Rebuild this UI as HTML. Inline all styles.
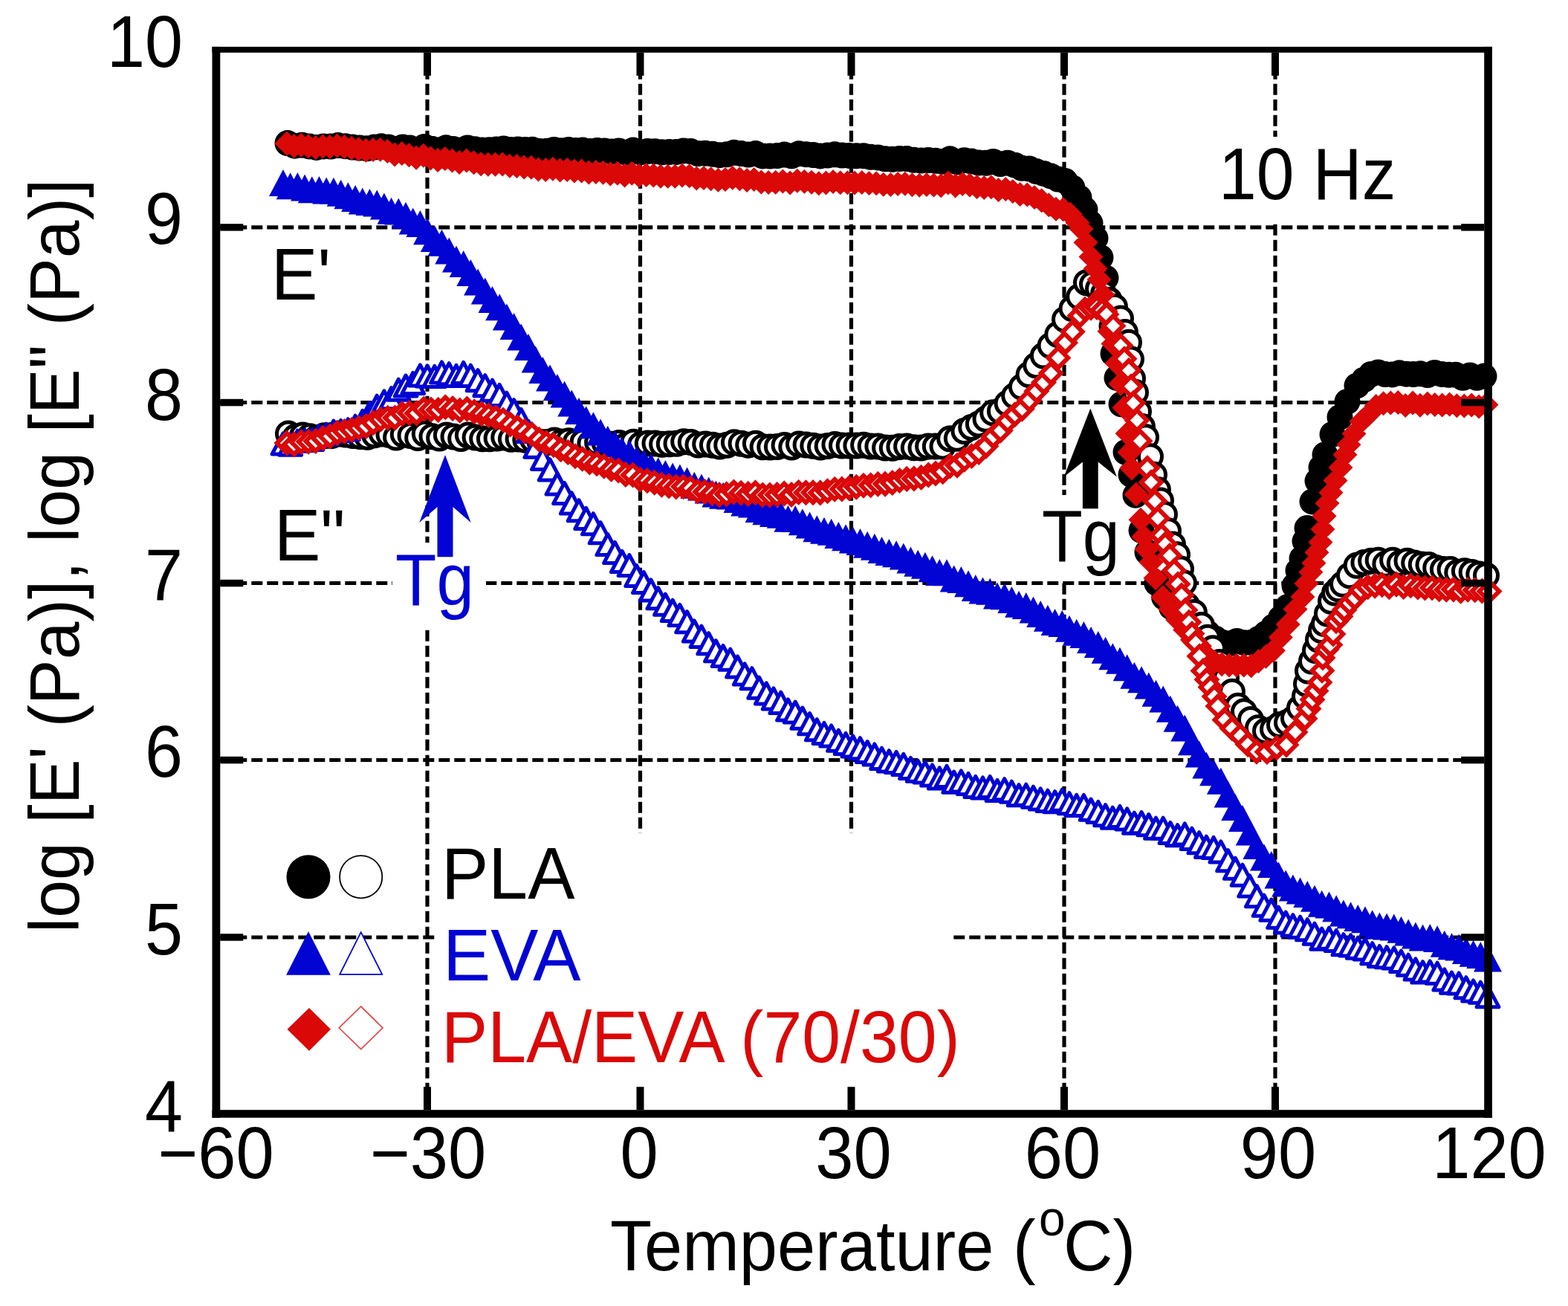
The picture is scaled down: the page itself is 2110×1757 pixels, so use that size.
<!DOCTYPE html><html><head><meta charset="utf-8"><title>DMA plot</title><style>html,body{margin:0;padding:0;background:#fff;}svg{display:block}text{font-family:"Liberation Sans",Arial,sans-serif;}</style></head><body><svg xmlns="http://www.w3.org/2000/svg" width="2110" height="1757" viewBox="0 0 2110 1757"><rect width="2110" height="1757" fill="#fff"/><path d="M575 70.8V1493.2M861.5 70.8V1493.2M1145.5 70.8V1493.2M1432 70.8V1493.2M1716 70.8V1493.2M296.3 305.8H1997.2M296.3 541.5H1997.2M296.3 784.5H1997.2M296.3 1022.5H1997.2M296.3 1261H1997.2" stroke="#000" stroke-width="5.2" stroke-dasharray="15 6" fill="none"/><rect x="590" y="1121" width="692" height="372" fill="#fff"/><rect x="1640" y="184" width="242" height="114" fill="#fff"/><rect x="528" y="730" width="126" height="115" fill="#fff"/><rect x="1395" y="666" width="111" height="113" fill="#fff"/><path d="M369.5 192.6a17.5 17.5 0 1 0 35 0a17.5 17.5 0 1 0 -35 0zM379.2 196.2a17.5 17.5 0 1 0 35 0a17.5 17.5 0 1 0 -35 0zM388.9 195.2a17.5 17.5 0 1 0 35 0a17.5 17.5 0 1 0 -35 0zM398.6 196.9a17.5 17.5 0 1 0 35 0a17.5 17.5 0 1 0 -35 0zM408.3 198.4a17.5 17.5 0 1 0 35 0a17.5 17.5 0 1 0 -35 0zM417.9 196.9a17.5 17.5 0 1 0 35 0a17.5 17.5 0 1 0 -35 0zM427.6 197.1a17.5 17.5 0 1 0 35 0a17.5 17.5 0 1 0 -35 0zM437.3 195.6a17.5 17.5 0 1 0 35 0a17.5 17.5 0 1 0 -35 0zM447 196.7a17.5 17.5 0 1 0 35 0a17.5 17.5 0 1 0 -35 0zM456.7 198a17.5 17.5 0 1 0 35 0a17.5 17.5 0 1 0 -35 0zM466.4 199a17.5 17.5 0 1 0 35 0a17.5 17.5 0 1 0 -35 0zM476.1 199.8a17.5 17.5 0 1 0 35 0a17.5 17.5 0 1 0 -35 0zM485.8 198.1a17.5 17.5 0 1 0 35 0a17.5 17.5 0 1 0 -35 0zM495.4 196.8a17.5 17.5 0 1 0 35 0a17.5 17.5 0 1 0 -35 0zM505.1 198a17.5 17.5 0 1 0 35 0a17.5 17.5 0 1 0 -35 0zM514.8 200.9a17.5 17.5 0 1 0 35 0a17.5 17.5 0 1 0 -35 0zM524.5 197.9a17.5 17.5 0 1 0 35 0a17.5 17.5 0 1 0 -35 0zM534.2 199.1a17.5 17.5 0 1 0 35 0a17.5 17.5 0 1 0 -35 0zM543.9 201.3a17.5 17.5 0 1 0 35 0a17.5 17.5 0 1 0 -35 0zM553.6 197.5a17.5 17.5 0 1 0 35 0a17.5 17.5 0 1 0 -35 0zM563.3 200.2a17.5 17.5 0 1 0 35 0a17.5 17.5 0 1 0 -35 0zM572.9 201.8a17.5 17.5 0 1 0 35 0a17.5 17.5 0 1 0 -35 0zM582.6 198.8a17.5 17.5 0 1 0 35 0a17.5 17.5 0 1 0 -35 0zM592.3 200.4a17.5 17.5 0 1 0 35 0a17.5 17.5 0 1 0 -35 0zM602 202.1a17.5 17.5 0 1 0 35 0a17.5 17.5 0 1 0 -35 0zM611.7 198.9a17.5 17.5 0 1 0 35 0a17.5 17.5 0 1 0 -35 0zM621.4 200.7a17.5 17.5 0 1 0 35 0a17.5 17.5 0 1 0 -35 0zM631.1 201.9a17.5 17.5 0 1 0 35 0a17.5 17.5 0 1 0 -35 0zM640.8 201.7a17.5 17.5 0 1 0 35 0a17.5 17.5 0 1 0 -35 0zM650.5 201a17.5 17.5 0 1 0 35 0a17.5 17.5 0 1 0 -35 0zM660.1 200a17.5 17.5 0 1 0 35 0a17.5 17.5 0 1 0 -35 0zM669.8 201.4a17.5 17.5 0 1 0 35 0a17.5 17.5 0 1 0 -35 0zM679.5 201a17.5 17.5 0 1 0 35 0a17.5 17.5 0 1 0 -35 0zM689.2 201.6a17.5 17.5 0 1 0 35 0a17.5 17.5 0 1 0 -35 0zM698.9 201.3a17.5 17.5 0 1 0 35 0a17.5 17.5 0 1 0 -35 0zM708.6 203.5a17.5 17.5 0 1 0 35 0a17.5 17.5 0 1 0 -35 0zM718.3 203.3a17.5 17.5 0 1 0 35 0a17.5 17.5 0 1 0 -35 0zM728 201.5a17.5 17.5 0 1 0 35 0a17.5 17.5 0 1 0 -35 0zM737.6 202.7a17.5 17.5 0 1 0 35 0a17.5 17.5 0 1 0 -35 0zM747.3 201.5a17.5 17.5 0 1 0 35 0a17.5 17.5 0 1 0 -35 0zM757 202.4a17.5 17.5 0 1 0 35 0a17.5 17.5 0 1 0 -35 0zM766.7 202.1a17.5 17.5 0 1 0 35 0a17.5 17.5 0 1 0 -35 0zM776.4 203.5a17.5 17.5 0 1 0 35 0a17.5 17.5 0 1 0 -35 0zM786.1 202.4a17.5 17.5 0 1 0 35 0a17.5 17.5 0 1 0 -35 0zM795.8 202.9a17.5 17.5 0 1 0 35 0a17.5 17.5 0 1 0 -35 0zM805.5 204.1a17.5 17.5 0 1 0 35 0a17.5 17.5 0 1 0 -35 0zM815.2 202.9a17.5 17.5 0 1 0 35 0a17.5 17.5 0 1 0 -35 0zM824.8 205.2a17.5 17.5 0 1 0 35 0a17.5 17.5 0 1 0 -35 0zM834.5 202.1a17.5 17.5 0 1 0 35 0a17.5 17.5 0 1 0 -35 0zM844.2 204.8a17.5 17.5 0 1 0 35 0a17.5 17.5 0 1 0 -35 0zM853.9 203.5a17.5 17.5 0 1 0 35 0a17.5 17.5 0 1 0 -35 0zM863.6 203.7a17.5 17.5 0 1 0 35 0a17.5 17.5 0 1 0 -35 0zM873.3 204.8a17.5 17.5 0 1 0 35 0a17.5 17.5 0 1 0 -35 0zM883 204.6a17.5 17.5 0 1 0 35 0a17.5 17.5 0 1 0 -35 0zM892.7 204.4a17.5 17.5 0 1 0 35 0a17.5 17.5 0 1 0 -35 0zM902.3 202.9a17.5 17.5 0 1 0 35 0a17.5 17.5 0 1 0 -35 0zM912 203.6a17.5 17.5 0 1 0 35 0a17.5 17.5 0 1 0 -35 0zM921.7 206.6a17.5 17.5 0 1 0 35 0a17.5 17.5 0 1 0 -35 0zM931.4 206.2a17.5 17.5 0 1 0 35 0a17.5 17.5 0 1 0 -35 0zM941.1 207.2a17.5 17.5 0 1 0 35 0a17.5 17.5 0 1 0 -35 0zM950.8 208.7a17.5 17.5 0 1 0 35 0a17.5 17.5 0 1 0 -35 0zM960.5 207.8a17.5 17.5 0 1 0 35 0a17.5 17.5 0 1 0 -35 0zM970.2 205.3a17.5 17.5 0 1 0 35 0a17.5 17.5 0 1 0 -35 0zM979.8 206.6a17.5 17.5 0 1 0 35 0a17.5 17.5 0 1 0 -35 0zM989.5 208a17.5 17.5 0 1 0 35 0a17.5 17.5 0 1 0 -35 0zM999.2 206.6a17.5 17.5 0 1 0 35 0a17.5 17.5 0 1 0 -35 0zM1008.9 209.9a17.5 17.5 0 1 0 35 0a17.5 17.5 0 1 0 -35 0zM1018.6 210a17.5 17.5 0 1 0 35 0a17.5 17.5 0 1 0 -35 0zM1028.3 209.6a17.5 17.5 0 1 0 35 0a17.5 17.5 0 1 0 -35 0zM1038 208.1a17.5 17.5 0 1 0 35 0a17.5 17.5 0 1 0 -35 0zM1047.7 209.8a17.5 17.5 0 1 0 35 0a17.5 17.5 0 1 0 -35 0zM1057.4 206.8a17.5 17.5 0 1 0 35 0a17.5 17.5 0 1 0 -35 0zM1067 207.7a17.5 17.5 0 1 0 35 0a17.5 17.5 0 1 0 -35 0zM1076.7 208.5a17.5 17.5 0 1 0 35 0a17.5 17.5 0 1 0 -35 0zM1086.4 209.9a17.5 17.5 0 1 0 35 0a17.5 17.5 0 1 0 -35 0zM1096.1 209a17.5 17.5 0 1 0 35 0a17.5 17.5 0 1 0 -35 0zM1105.8 207.8a17.5 17.5 0 1 0 35 0a17.5 17.5 0 1 0 -35 0zM1115.5 209.1a17.5 17.5 0 1 0 35 0a17.5 17.5 0 1 0 -35 0zM1125.2 209.4a17.5 17.5 0 1 0 35 0a17.5 17.5 0 1 0 -35 0zM1134.9 209.8a17.5 17.5 0 1 0 35 0a17.5 17.5 0 1 0 -35 0zM1144.5 209.7a17.5 17.5 0 1 0 35 0a17.5 17.5 0 1 0 -35 0zM1154.2 211.3a17.5 17.5 0 1 0 35 0a17.5 17.5 0 1 0 -35 0zM1163.9 211.9a17.5 17.5 0 1 0 35 0a17.5 17.5 0 1 0 -35 0zM1173.6 213.8a17.5 17.5 0 1 0 35 0a17.5 17.5 0 1 0 -35 0zM1183.3 214.3a17.5 17.5 0 1 0 35 0a17.5 17.5 0 1 0 -35 0zM1193 213.5a17.5 17.5 0 1 0 35 0a17.5 17.5 0 1 0 -35 0zM1202.7 213.6a17.5 17.5 0 1 0 35 0a17.5 17.5 0 1 0 -35 0zM1212.4 215.3a17.5 17.5 0 1 0 35 0a17.5 17.5 0 1 0 -35 0zM1222.1 216.1a17.5 17.5 0 1 0 35 0a17.5 17.5 0 1 0 -35 0zM1231.7 215.5a17.5 17.5 0 1 0 35 0a17.5 17.5 0 1 0 -35 0zM1241.4 216.3a17.5 17.5 0 1 0 35 0a17.5 17.5 0 1 0 -35 0zM1251.1 217.3a17.5 17.5 0 1 0 35 0a17.5 17.5 0 1 0 -35 0zM1260.8 213.8a17.5 17.5 0 1 0 35 0a17.5 17.5 0 1 0 -35 0zM1270.5 217.9a17.5 17.5 0 1 0 35 0a17.5 17.5 0 1 0 -35 0zM1280.2 215.7a17.5 17.5 0 1 0 35 0a17.5 17.5 0 1 0 -35 0zM1289.9 217.1a17.5 17.5 0 1 0 35 0a17.5 17.5 0 1 0 -35 0zM1299.6 219a17.5 17.5 0 1 0 35 0a17.5 17.5 0 1 0 -35 0zM1309.2 219.3a17.5 17.5 0 1 0 35 0a17.5 17.5 0 1 0 -35 0zM1318.9 217.5a17.5 17.5 0 1 0 35 0a17.5 17.5 0 1 0 -35 0zM1328.6 220.6a17.5 17.5 0 1 0 35 0a17.5 17.5 0 1 0 -35 0zM1338.3 219.2a17.5 17.5 0 1 0 35 0a17.5 17.5 0 1 0 -35 0zM1348 222.2a17.5 17.5 0 1 0 35 0a17.5 17.5 0 1 0 -35 0zM1357.7 226.3a17.5 17.5 0 1 0 35 0a17.5 17.5 0 1 0 -35 0zM1367.4 227a17.5 17.5 0 1 0 35 0a17.5 17.5 0 1 0 -35 0zM1377.1 230.6a17.5 17.5 0 1 0 35 0a17.5 17.5 0 1 0 -35 0zM1386.7 233.4a17.5 17.5 0 1 0 35 0a17.5 17.5 0 1 0 -35 0zM1396.4 236.8a17.5 17.5 0 1 0 35 0a17.5 17.5 0 1 0 -35 0zM1406.1 241a17.5 17.5 0 1 0 35 0a17.5 17.5 0 1 0 -35 0zM1415.8 243.5a17.5 17.5 0 1 0 35 0a17.5 17.5 0 1 0 -35 0zM1425.5 252.6a17.5 17.5 0 1 0 35 0a17.5 17.5 0 1 0 -35 0zM1434.5 265.8a17.5 17.5 0 1 0 35 0a17.5 17.5 0 1 0 -35 0zM1442.5 282a17.5 17.5 0 1 0 35 0a17.5 17.5 0 1 0 -35 0zM1449.5 300.2a17.5 17.5 0 1 0 35 0a17.5 17.5 0 1 0 -35 0zM1456.5 320.5a17.5 17.5 0 1 0 35 0a17.5 17.5 0 1 0 -35 0zM1463.5 346.4a17.5 17.5 0 1 0 35 0a17.5 17.5 0 1 0 -35 0zM1470.5 373.9a17.5 17.5 0 1 0 35 0a17.5 17.5 0 1 0 -35 0zM1475.5 403.4a17.5 17.5 0 1 0 35 0a17.5 17.5 0 1 0 -35 0zM1478.5 438.8a17.5 17.5 0 1 0 35 0a17.5 17.5 0 1 0 -35 0zM1480.5 475.7a17.5 17.5 0 1 0 35 0a17.5 17.5 0 1 0 -35 0zM1485.5 508.4a17.5 17.5 0 1 0 35 0a17.5 17.5 0 1 0 -35 0zM1491.5 543.8a17.5 17.5 0 1 0 35 0a17.5 17.5 0 1 0 -35 0zM1497.5 608.3a17.5 17.5 0 1 0 35 0a17.5 17.5 0 1 0 -35 0zM1504.5 638.5a17.5 17.5 0 1 0 35 0a17.5 17.5 0 1 0 -35 0zM1510.5 666.2a17.5 17.5 0 1 0 35 0a17.5 17.5 0 1 0 -35 0zM1518.5 713.6a17.5 17.5 0 1 0 35 0a17.5 17.5 0 1 0 -35 0zM1526.5 742.9a17.5 17.5 0 1 0 35 0a17.5 17.5 0 1 0 -35 0zM1539.3 784.6a17.5 17.5 0 1 0 35 0a17.5 17.5 0 1 0 -35 0zM1549.1 803.6a17.5 17.5 0 1 0 35 0a17.5 17.5 0 1 0 -35 0zM1558.9 816.8a17.5 17.5 0 1 0 35 0a17.5 17.5 0 1 0 -35 0zM1568.7 823.5a17.5 17.5 0 1 0 35 0a17.5 17.5 0 1 0 -35 0zM1578.4 831.7a17.5 17.5 0 1 0 35 0a17.5 17.5 0 1 0 -35 0zM1588.2 842.4a17.5 17.5 0 1 0 35 0a17.5 17.5 0 1 0 -35 0zM1598 849.1a17.5 17.5 0 1 0 35 0a17.5 17.5 0 1 0 -35 0zM1607.8 851.9a17.5 17.5 0 1 0 35 0a17.5 17.5 0 1 0 -35 0zM1617.6 858.9a17.5 17.5 0 1 0 35 0a17.5 17.5 0 1 0 -35 0zM1627.4 864.3a17.5 17.5 0 1 0 35 0a17.5 17.5 0 1 0 -35 0zM1637.2 865.5a17.5 17.5 0 1 0 35 0a17.5 17.5 0 1 0 -35 0zM1647 862.5a17.5 17.5 0 1 0 35 0a17.5 17.5 0 1 0 -35 0zM1656.8 864.7a17.5 17.5 0 1 0 35 0a17.5 17.5 0 1 0 -35 0zM1666.6 864.3a17.5 17.5 0 1 0 35 0a17.5 17.5 0 1 0 -35 0zM1676.3 859.3a17.5 17.5 0 1 0 35 0a17.5 17.5 0 1 0 -35 0zM1686.1 852.3a17.5 17.5 0 1 0 35 0a17.5 17.5 0 1 0 -35 0zM1695.9 843.1a17.5 17.5 0 1 0 35 0a17.5 17.5 0 1 0 -35 0zM1705.7 831.9a17.5 17.5 0 1 0 35 0a17.5 17.5 0 1 0 -35 0zM1715.5 816.4a17.5 17.5 0 1 0 35 0a17.5 17.5 0 1 0 -35 0zM1724.5 788a17.5 17.5 0 1 0 35 0a17.5 17.5 0 1 0 -35 0zM1729.5 767.8a17.5 17.5 0 1 0 35 0a17.5 17.5 0 1 0 -35 0zM1734.5 751.4a17.5 17.5 0 1 0 35 0a17.5 17.5 0 1 0 -35 0zM1738.5 728.1a17.5 17.5 0 1 0 35 0a17.5 17.5 0 1 0 -35 0zM1741.5 710.5a17.5 17.5 0 1 0 35 0a17.5 17.5 0 1 0 -35 0zM1748.5 674.9a17.5 17.5 0 1 0 35 0a17.5 17.5 0 1 0 -35 0zM1755.5 647.1a17.5 17.5 0 1 0 35 0a17.5 17.5 0 1 0 -35 0zM1760.5 628.9a17.5 17.5 0 1 0 35 0a17.5 17.5 0 1 0 -35 0zM1765.5 611.7a17.5 17.5 0 1 0 35 0a17.5 17.5 0 1 0 -35 0zM1775.5 584.4a17.5 17.5 0 1 0 35 0a17.5 17.5 0 1 0 -35 0zM1785.5 561.3a17.5 17.5 0 1 0 35 0a17.5 17.5 0 1 0 -35 0zM1795.5 540.4a17.5 17.5 0 1 0 35 0a17.5 17.5 0 1 0 -35 0zM1808.5 518.9a17.5 17.5 0 1 0 35 0a17.5 17.5 0 1 0 -35 0zM1818 510.9a17.5 17.5 0 1 0 35 0a17.5 17.5 0 1 0 -35 0zM1827.5 503.5a17.5 17.5 0 1 0 35 0a17.5 17.5 0 1 0 -35 0zM1837 500.9a17.5 17.5 0 1 0 35 0a17.5 17.5 0 1 0 -35 0zM1846.5 503.6a17.5 17.5 0 1 0 35 0a17.5 17.5 0 1 0 -35 0zM1856 503.9a17.5 17.5 0 1 0 35 0a17.5 17.5 0 1 0 -35 0zM1865.5 501.8a17.5 17.5 0 1 0 35 0a17.5 17.5 0 1 0 -35 0zM1875 503.2a17.5 17.5 0 1 0 35 0a17.5 17.5 0 1 0 -35 0zM1884.5 503.6a17.5 17.5 0 1 0 35 0a17.5 17.5 0 1 0 -35 0zM1894 502.8a17.5 17.5 0 1 0 35 0a17.5 17.5 0 1 0 -35 0zM1903.5 504.5a17.5 17.5 0 1 0 35 0a17.5 17.5 0 1 0 -35 0zM1913 501.5a17.5 17.5 0 1 0 35 0a17.5 17.5 0 1 0 -35 0zM1922.5 503.4a17.5 17.5 0 1 0 35 0a17.5 17.5 0 1 0 -35 0zM1932 504.3a17.5 17.5 0 1 0 35 0a17.5 17.5 0 1 0 -35 0zM1941.5 504.3a17.5 17.5 0 1 0 35 0a17.5 17.5 0 1 0 -35 0zM1951 508.3a17.5 17.5 0 1 0 35 0a17.5 17.5 0 1 0 -35 0zM1960.5 505a17.5 17.5 0 1 0 35 0a17.5 17.5 0 1 0 -35 0zM1970 508.3a17.5 17.5 0 1 0 35 0a17.5 17.5 0 1 0 -35 0zM1979.5 506.1a17.5 17.5 0 1 0 35 0a17.5 17.5 0 1 0 -35 0z" fill="#000"/><g fill="#fff" stroke="#000" stroke-width="5.0"><circle cx="388" cy="583.5" r="15.5"/><circle cx="397.7" cy="587.7" r="15.5"/><circle cx="407.4" cy="585.6" r="15.5"/><circle cx="417" cy="587.3" r="15.5"/><circle cx="426.7" cy="588.9" r="15.5"/><circle cx="436.4" cy="586.2" r="15.5"/><circle cx="446.1" cy="586" r="15.5"/><circle cx="455.7" cy="583.4" r="15.5"/><circle cx="465.4" cy="584.6" r="15.5"/><circle cx="475.1" cy="586" r="15.5"/><circle cx="484.8" cy="587.1" r="15.5"/><circle cx="494.4" cy="587.8" r="15.5"/><circle cx="504.1" cy="585.3" r="15.5"/><circle cx="513.8" cy="583.4" r="15.5"/><circle cx="523.5" cy="584.8" r="15.5"/><circle cx="533.1" cy="588.6" r="15.5"/><circle cx="542.8" cy="584.5" r="15.5"/><circle cx="552.5" cy="586" r="15.5"/><circle cx="562.2" cy="589" r="15.5"/><circle cx="571.8" cy="583.7" r="15.5"/><circle cx="581.5" cy="587.3" r="15.5"/><circle cx="591.2" cy="589.6" r="15.5"/><circle cx="600.9" cy="585.4" r="15.5"/><circle cx="610.5" cy="587.5" r="15.5"/><circle cx="620.2" cy="590" r="15.5"/><circle cx="629.9" cy="585.6" r="15.5"/><circle cx="639.6" cy="588.4" r="15.5"/><circle cx="649.2" cy="590.2" r="15.5"/><circle cx="658.9" cy="590.2" r="15.5"/><circle cx="668.6" cy="589.5" r="15.5"/><circle cx="678.3" cy="588.5" r="15.5"/><circle cx="687.9" cy="590.7" r="15.5"/><circle cx="697.6" cy="590.6" r="15.5"/><circle cx="707.3" cy="591.7" r="15.5"/><circle cx="717" cy="591.5" r="15.5"/><circle cx="726.6" cy="594.8" r="15.5"/><circle cx="736.3" cy="594.9" r="15.5"/><circle cx="746" cy="592.6" r="15.5"/><circle cx="755.7" cy="594.6" r="15.5"/><circle cx="765.4" cy="593.3" r="15.5"/><circle cx="775" cy="594.8" r="15.5"/><circle cx="784.7" cy="594.6" r="15.5"/><circle cx="794.4" cy="596.8" r="15.5"/><circle cx="804.1" cy="595.3" r="15.5"/><circle cx="813.7" cy="596" r="15.5"/><circle cx="823.4" cy="597.7" r="15.5"/><circle cx="833.1" cy="596" r="15.5"/><circle cx="842.8" cy="599" r="15.5"/><circle cx="852.4" cy="594.8" r="15.5"/><circle cx="862.1" cy="598.2" r="15.5"/><circle cx="871.8" cy="596.4" r="15.5"/><circle cx="881.5" cy="596.5" r="15.5"/><circle cx="891.1" cy="597.8" r="15.5"/><circle cx="900.8" cy="597.2" r="15.5"/><circle cx="910.5" cy="596.7" r="15.5"/><circle cx="920.2" cy="594.2" r="15.5"/><circle cx="929.8" cy="594.9" r="15.5"/><circle cx="939.5" cy="598.6" r="15.5"/><circle cx="949.2" cy="597.6" r="15.5"/><circle cx="958.9" cy="598.7" r="15.5"/><circle cx="968.5" cy="600.4" r="15.5"/><circle cx="978.2" cy="598.8" r="15.5"/><circle cx="987.9" cy="595.2" r="15.5"/><circle cx="997.6" cy="596.8" r="15.5"/><circle cx="1007.2" cy="598.7" r="15.5"/><circle cx="1016.9" cy="596.7" r="15.5"/><circle cx="1026.6" cy="601.3" r="15.5"/><circle cx="1036.3" cy="601.4" r="15.5"/><circle cx="1045.9" cy="601" r="15.5"/><circle cx="1055.6" cy="599" r="15.5"/><circle cx="1065.3" cy="601.4" r="15.5"/><circle cx="1075" cy="597.4" r="15.5"/><circle cx="1084.6" cy="598.6" r="15.5"/><circle cx="1094.3" cy="599.7" r="15.5"/><circle cx="1104" cy="601.5" r="15.5"/><circle cx="1113.7" cy="600.1" r="15.5"/><circle cx="1123.4" cy="598.1" r="15.5"/><circle cx="1133" cy="599.5" r="15.5"/><circle cx="1142.7" cy="599.5" r="15.5"/><circle cx="1152.4" cy="599.5" r="15.5"/><circle cx="1162.1" cy="598.8" r="15.5"/><circle cx="1171.7" cy="600.4" r="15.5"/><circle cx="1181.4" cy="600.6" r="15.5"/><circle cx="1191.1" cy="602.6" r="15.5"/><circle cx="1200.8" cy="602.8" r="15.5"/><circle cx="1210.4" cy="601.1" r="15.5"/><circle cx="1220.1" cy="600.6" r="15.5"/><circle cx="1229.8" cy="602.2" r="15.5"/><circle cx="1239.5" cy="602.4" r="15.5"/><circle cx="1249.1" cy="600.6" r="15.5"/><circle cx="1258.8" cy="600.6" r="15.5"/><circle cx="1268.5" cy="600.6" r="15.5"/><circle cx="1278.2" cy="590.3" r="15.5"/><circle cx="1287.8" cy="589.7" r="15.5"/><circle cx="1297.5" cy="580.1" r="15.5"/><circle cx="1307.2" cy="574.9" r="15.5"/><circle cx="1316.9" cy="570.4" r="15.5"/><circle cx="1326.5" cy="563.8" r="15.5"/><circle cx="1336.2" cy="555.2" r="15.5"/><circle cx="1345.9" cy="553" r="15.5"/><circle cx="1355.6" cy="542.7" r="15.5"/><circle cx="1365.2" cy="532.5" r="15.5"/><circle cx="1374.9" cy="520.6" r="15.5"/><circle cx="1384.6" cy="504" r="15.5"/><circle cx="1394.3" cy="491.4" r="15.5"/><circle cx="1403.9" cy="478.6" r="15.5"/><circle cx="1413.6" cy="465" r="15.5"/><circle cx="1423.3" cy="449.9" r="15.5"/><circle cx="1433" cy="429.7" r="15.5"/><circle cx="1442.6" cy="415.1" r="15.5"/><circle cx="1452.3" cy="399.3" r="15.5"/><circle cx="1462" cy="380.3" r="15.5"/><circle cx="1470" cy="382.2" r="15.5"/><circle cx="1478" cy="388.6" r="15.5"/><circle cx="1485" cy="395" r="15.5"/><circle cx="1492" cy="403.7" r="15.5"/><circle cx="1500" cy="412.8" r="15.5"/><circle cx="1508" cy="428.4" r="15.5"/><circle cx="1514" cy="447" r="15.5"/><circle cx="1519" cy="460.8" r="15.5"/><circle cx="1522" cy="483.3" r="15.5"/><circle cx="1524" cy="509.4" r="15.5"/><circle cx="1528" cy="528" r="15.5"/><circle cx="1532" cy="553.7" r="15.5"/><circle cx="1537" cy="574.1" r="15.5"/><circle cx="1542" cy="588.2" r="15.5"/><circle cx="1548" cy="614.2" r="15.5"/><circle cx="1553" cy="638.8" r="15.5"/><circle cx="1558" cy="658.9" r="15.5"/><circle cx="1562" cy="673.6" r="15.5"/><circle cx="1567" cy="692" r="15.5"/><circle cx="1572" cy="714.3" r="15.5"/><circle cx="1578" cy="732.5" r="15.5"/><circle cx="1584" cy="746.2" r="15.5"/><circle cx="1589" cy="765.6" r="15.5"/><circle cx="1593" cy="784.3" r="15.5"/><circle cx="1597" cy="814.1" r="15.5"/><circle cx="1607" cy="824" r="15.5"/><circle cx="1617" cy="841" r="15.5"/><circle cx="1625" cy="857.8" r="15.5"/><circle cx="1632" cy="872.3" r="15.5"/><circle cx="1641" cy="891" r="15.5"/><circle cx="1650" cy="912.2" r="15.5"/><circle cx="1658" cy="930.7" r="15.5"/><circle cx="1666" cy="949.8" r="15.5"/><circle cx="1674" cy="957.3" r="15.5"/><circle cx="1683" cy="968" r="15.5"/><circle cx="1693" cy="979.2" r="15.5"/><circle cx="1703" cy="983.4" r="15.5"/><circle cx="1713" cy="980.9" r="15.5"/><circle cx="1722" cy="975.1" r="15.5"/><circle cx="1732" cy="972.1" r="15.5"/><circle cx="1741" cy="966.2" r="15.5"/><circle cx="1749" cy="952.6" r="15.5"/><circle cx="1756" cy="936.8" r="15.5"/><circle cx="1758" cy="920" r="15.5"/><circle cx="1760" cy="902.5" r="15.5"/><circle cx="1765" cy="889.6" r="15.5"/><circle cx="1770" cy="875" r="15.5"/><circle cx="1774" cy="860.4" r="15.5"/><circle cx="1778" cy="848.1" r="15.5"/><circle cx="1782" cy="839" r="15.5"/><circle cx="1786" cy="825.6" r="15.5"/><circle cx="1791" cy="808.8" r="15.5"/><circle cx="1796" cy="797.6" r="15.5"/><circle cx="1801" cy="792.2" r="15.5"/><circle cx="1807" cy="785.7" r="15.5"/><circle cx="1816" cy="774.2" r="15.5"/><circle cx="1825.7" cy="760.7" r="15.5"/><circle cx="1835.4" cy="757" r="15.5"/><circle cx="1845.1" cy="754.7" r="15.5"/><circle cx="1854.7" cy="753.8" r="15.5"/><circle cx="1864.4" cy="758.7" r="15.5"/><circle cx="1874.1" cy="753.7" r="15.5"/><circle cx="1883.8" cy="757.8" r="15.5"/><circle cx="1893.5" cy="754.7" r="15.5"/><circle cx="1903.2" cy="757.5" r="15.5"/><circle cx="1912.8" cy="759.5" r="15.5"/><circle cx="1922.5" cy="759.9" r="15.5"/><circle cx="1932.2" cy="764" r="15.5"/><circle cx="1941.9" cy="765.9" r="15.5"/><circle cx="1951.6" cy="766.1" r="15.5"/><circle cx="1961.3" cy="770.2" r="15.5"/><circle cx="1970.9" cy="768.3" r="15.5"/><circle cx="1980.6" cy="770.1" r="15.5"/><circle cx="1990.3" cy="772.6" r="15.5"/><circle cx="2000" cy="774.3" r="15.5"/></g><path d="M381 228.1L400 264.1L362 264.1zM390.7 232.3L409.7 268.3L371.7 268.3zM400.4 232L419.4 268L381.4 268zM410.1 234.6L429.1 270.6L391.1 270.6zM419.8 237.3L438.8 273.3L400.8 273.3zM429.5 237L448.5 273L410.5 273zM439.2 238.6L458.2 274.6L420.2 274.6zM448.9 238.7L467.9 274.7L429.9 274.7zM458.7 241.8L477.7 277.8L439.7 277.8zM468.4 245.3L487.4 281.3L449.4 281.3zM478.1 248.9L497.1 284.9L459.1 284.9zM487.8 252.6L506.8 288.6L468.8 288.6zM497.5 253.9L516.5 289.9L478.5 289.9zM507.2 255.5L526.2 291.5L488.2 291.5zM516.9 259.6L535.9 295.6L497.9 295.6zM526.6 265.8L545.6 301.8L507.6 301.8zM536.3 266.4L555.3 302.4L517.3 302.4zM546 271.7L565 307.7L527 307.7zM555.7 279.6L574.7 315.6L536.7 315.6zM565.4 283L584.4 319L546.4 319zM575.1 293.2L594.1 329.2L556.1 329.2zM584.8 303.1L603.8 339.1L565.8 339.1zM594.5 308.8L613.5 344.8L575.5 344.8zM604.3 319.5L623.3 355.5L585.3 355.5zM614 330.6L633 366.6L595 366.6zM623.7 337L642.7 373L604.7 373zM633.4 349L652.4 385L614.4 385zM643.1 361.4L662.1 397.4L624.1 397.4zM652.8 373.5L671.8 409.5L633.8 409.5zM662.5 384.9L681.5 420.9L643.5 420.9zM672.2 395.3L691.2 431.3L653.2 431.3zM681.9 408.5L700.9 444.5L662.9 444.5zM691.6 421.1L710.6 457.1L672.6 457.1zM701.3 435.4L720.3 471.4L682.3 471.4zM711 449L730 485L692 485zM720.7 465.6L739.7 501.6L701.7 501.6zM730.4 479.9L749.4 515.9L711.4 515.9zM740.1 490.6L759.1 526.6L721.1 526.6zM749.9 503L768.9 539L730.9 539zM759.6 512.5L778.6 548.5L740.6 548.5zM769.3 524.5L788.3 560.5L750.3 560.5zM779 535.1L798 571.1L760 571.1zM788.7 546.3L807.7 582.3L769.7 582.3zM798.4 554.3L817.4 590.3L779.4 590.3zM808.1 563.4L827.1 599.4L789.1 599.4zM817.8 572.8L836.8 608.8L798.8 608.8zM827.5 579L846.5 615L808.5 615zM837.2 588.2L856.2 624.2L818.2 624.2zM846.9 591.6L865.9 627.6L827.9 627.6zM856.6 600.2L875.6 636.2L837.6 636.2zM866.3 604.5L885.3 640.5L847.3 640.5zM876 609.7L895 645.7L857 645.7zM885.7 615.3L904.7 651.3L866.7 651.3zM895.4 619L914.4 655L876.4 655zM905.2 622.5L924.2 658.5L886.2 658.5zM914.9 624.5L933.9 660.5L895.9 660.5zM924.6 628.5L943.6 664.5L905.6 664.5zM934.3 634.7L953.3 670.7L915.3 670.7zM944 637.4L963 673.4L925 673.4zM953.7 641.6L972.7 677.6L934.7 677.6zM963.4 646.4L982.4 682.4L944.4 682.4zM973.1 648.7L992.1 684.7L954.1 684.7zM982.8 649.4L1001.8 685.4L963.8 685.4zM992.5 654L1011.5 690L973.5 690zM1002.2 658.6L1021.2 694.6L983.2 694.6zM1011.9 660.4L1030.9 696.4L992.9 696.4zM1021.6 666.9L1040.6 702.9L1002.6 702.9zM1031.3 670.2L1050.3 706.2L1012.3 706.2zM1041 673.1L1060 709.1L1022 709.1zM1050.8 674.8L1069.8 710.8L1031.8 710.8zM1060.5 679.8L1079.5 715.8L1041.5 715.8zM1070.2 680.1L1089.2 716.1L1051.2 716.1zM1079.9 684.3L1098.9 720.3L1060.9 720.3zM1089.6 688.5L1108.6 724.5L1070.6 724.5zM1099.3 693.3L1118.3 729.3L1080.3 729.3zM1109 695.7L1128 731.7L1090 731.7zM1118.7 697.7L1137.7 733.7L1099.7 733.7zM1128.4 702L1147.4 738L1109.4 738zM1138.1 705.3L1157.1 741.3L1119.1 741.3zM1147.8 708.4L1166.8 744.4L1128.8 744.4zM1157.5 710.9L1176.5 746.9L1138.5 746.9zM1167.2 714.8L1186.2 750.8L1148.2 750.8zM1176.9 717.7L1195.9 753.7L1157.9 753.7zM1186.6 722L1205.6 758L1167.6 758zM1196.4 725.1L1215.4 761.1L1177.4 761.1zM1206.1 727.2L1225.1 763.2L1187.1 763.2zM1215.8 730.4L1234.8 766.4L1196.8 766.4zM1225.5 735.5L1244.5 771.5L1206.5 771.5zM1235.2 739.8L1254.2 775.8L1216.2 775.8zM1244.9 742.7L1263.9 778.7L1225.9 778.7zM1254.6 747.2L1273.6 783.2L1235.6 783.2zM1264.3 752L1283.3 788L1245.3 788zM1274 752.3L1293 788.3L1255 788.3zM1283.7 760.4L1302.7 796.4L1264.7 796.4zM1293.4 762.1L1312.4 798.1L1274.4 798.1zM1303.1 767.3L1322.1 803.3L1284.1 803.3zM1312.8 772.9L1331.8 808.9L1293.8 808.9zM1322.5 776.6L1341.5 812.6L1303.5 812.6zM1332.2 777.7L1351.2 813.7L1313.2 813.7zM1342 783.4L1361 819.4L1323 819.4zM1351.7 784.2L1370.7 820.2L1332.7 820.2zM1361.4 789L1380.4 825L1342.4 825zM1371.1 794.7L1390.1 830.7L1352.1 830.7zM1380.8 797L1399.8 833L1361.8 833zM1390.5 802.4L1409.5 838.4L1371.5 838.4zM1400.2 808L1419.2 844L1381.2 844zM1409.9 813.7L1428.9 849.7L1390.9 849.7zM1419.6 818.9L1438.6 854.9L1400.6 854.9zM1429.3 820.9L1448.3 856.9L1410.3 856.9zM1439 827.8L1458 863.8L1420 863.8zM1448.7 832.8L1467.7 868.8L1429.7 868.8zM1458.4 835.9L1477.4 871.9L1439.4 871.9zM1468.1 843.1L1487.1 879.1L1449.1 879.1zM1477.8 849.1L1496.8 885.1L1458.8 885.1zM1487.6 856.7L1506.6 892.7L1468.6 892.7zM1497.3 865.3L1516.3 901.3L1478.3 901.3zM1507 870.7L1526 906.7L1488 906.7zM1516.7 880.3L1535.7 916.3L1497.7 916.3zM1526.4 890.7L1545.4 926.7L1507.4 926.7zM1536.1 896.3L1555.1 932.3L1517.1 932.3zM1545.8 904.6L1564.8 940.6L1526.8 940.6zM1555.5 914.8L1574.5 950.8L1536.5 950.8zM1565.2 922.5L1584.2 958.5L1546.2 958.5zM1574.9 935.7L1593.9 971.7L1555.9 971.7zM1584.6 948.7L1603.6 984.7L1565.6 984.7zM1594.3 961.4L1613.3 997.4L1575.3 997.4zM1604 980.2L1623 1016.2L1585 1016.2zM1613.7 996.4L1632.7 1032.4L1594.7 1032.4zM1623.4 1011.5L1642.4 1047.5L1604.4 1047.5zM1633.1 1021.2L1652.1 1057.2L1614.1 1057.2zM1642.9 1032.8L1661.9 1068.8L1623.9 1068.8zM1652.6 1050.4L1671.6 1086.4L1633.6 1086.4zM1662.3 1067.9L1681.3 1103.9L1643.3 1103.9zM1672 1082.9L1691 1118.9L1653 1118.9zM1681.7 1101.5L1700.7 1137.5L1662.7 1137.5zM1691.4 1119.9L1710.4 1155.9L1672.4 1155.9zM1701.1 1135.4L1720.1 1171.4L1682.1 1171.4zM1710.8 1145L1729.8 1181L1691.8 1181zM1720.5 1159.6L1739.5 1195.6L1701.5 1195.6zM1730.2 1170.5L1749.2 1206.5L1711.2 1206.5zM1739.9 1176.4L1758.9 1212.4L1720.9 1212.4zM1749.6 1180.5L1768.6 1216.5L1730.6 1216.5zM1759.3 1184.9L1778.3 1220.9L1740.3 1220.9zM1769 1190.7L1788 1226.7L1750 1226.7zM1778.7 1197.7L1797.7 1233.7L1759.7 1233.7zM1788.5 1199.4L1807.5 1235.4L1769.5 1235.4zM1798.2 1204.2L1817.2 1240.2L1779.2 1240.2zM1807.9 1210.4L1826.9 1246.4L1788.9 1246.4zM1817.6 1213.2L1836.6 1249.2L1798.6 1249.2zM1827.3 1216.9L1846.3 1252.9L1808.3 1252.9zM1837 1219.3L1856 1255.3L1818 1255.3zM1846.7 1224.2L1865.7 1260.2L1827.7 1260.2zM1856.4 1227.5L1875.4 1263.5L1837.4 1263.5zM1866.1 1228.6L1885.1 1264.6L1847.1 1264.6zM1875.8 1229.6L1894.8 1265.6L1856.8 1265.6zM1885.5 1232.8L1904.5 1268.8L1866.5 1268.8zM1895.2 1236.4L1914.2 1272.4L1876.2 1272.4zM1904.9 1240.5L1923.9 1276.5L1885.9 1276.5zM1914.6 1243.5L1933.6 1279.5L1895.6 1279.5zM1924.3 1243.1L1943.3 1279.1L1905.3 1279.1zM1934.1 1245.1L1953.1 1281.1L1915.1 1281.1zM1943.8 1251.8L1962.8 1287.8L1924.8 1287.8zM1953.5 1255.3L1972.5 1291.3L1934.5 1291.3zM1963.2 1256.5L1982.2 1292.5L1944.2 1292.5zM1972.9 1261.1L1991.9 1297.1L1953.9 1297.1zM1982.6 1264.8L2001.6 1300.8L1963.6 1300.8zM1992.3 1267.1L2011.3 1303.1L1973.3 1303.1zM2002 1271.6L2021 1307.6L1983 1307.6z" fill="#0204d4"/><g fill="#fff" stroke="#0204d4" stroke-width="5.0" stroke-linejoin="round"><path d="M381 582.8L395.9 611L366.1 611z"/><path d="M390.7 584L405.6 612.2L375.9 612.2z"/><path d="M400.4 579.2L415.3 607.3L385.6 607.3z"/><path d="M410.1 578.3L425 606.4L395.3 606.4z"/><path d="M419.8 577.3L434.7 605.5L405 605.5z"/><path d="M429.5 572.4L444.4 600.5L414.7 600.5z"/><path d="M439.2 570.1L454.1 598.3L424.4 598.3z"/><path d="M448.9 566L463.8 594.1L434.1 594.1z"/><path d="M458.7 565.4L473.5 593.5L443.8 593.5z"/><path d="M468.4 563.7L483.2 591.9L453.5 591.9z"/><path d="M478.1 559.1L492.9 587.2L463.2 587.2z"/><path d="M487.8 552.3L502.6 580.4L472.9 580.4z"/><path d="M497.5 541.6L512.3 569.7L482.6 569.7z"/><path d="M507.2 532.1L522 560.3L492.3 560.3z"/><path d="M516.9 525.8L531.7 553.9L502 553.9z"/><path d="M526.6 521.6L541.5 549.8L511.7 549.8z"/><path d="M536.3 510.1L551.2 538.3L521.5 538.3z"/><path d="M546 505L560.9 533.1L531.2 533.1z"/><path d="M555.7 501.4L570.6 529.5L540.9 529.5z"/><path d="M565.4 490.9L580.3 519L550.6 519z"/><path d="M575.1 491.9L590 520L560.3 520z"/><path d="M584.8 492.3L599.7 520.4L570 520.4z"/><path d="M594.5 486.9L609.4 515.1L579.7 515.1z"/><path d="M604.3 488.7L619.1 516.8L589.4 516.8z"/><path d="M614 491.3L628.8 519.4L599.1 519.4z"/><path d="M623.7 487.4L638.5 515.6L608.8 515.6z"/><path d="M633.4 491.2L648.2 519.4L618.5 519.4z"/><path d="M643.1 497.6L657.9 525.7L628.2 525.7z"/><path d="M652.8 504.6L667.6 532.7L637.9 532.7z"/><path d="M662.5 511.1L677.3 539.2L647.6 539.2z"/><path d="M672.2 517.4L687.1 545.6L657.3 545.6z"/><path d="M681.9 528.1L696.8 556.2L667.1 556.2z"/><path d="M691.6 537.7L706.5 565.8L676.8 565.8z"/><path d="M701.3 550.4L716.2 578.5L686.5 578.5z"/><path d="M711 566.2L725.9 594.4L696.2 594.4z"/><path d="M720.7 587.2L735.6 615.3L705.9 615.3z"/><path d="M730.4 603.4L745.3 631.5L715.6 631.5z"/><path d="M740.1 617.8L755 646L725.3 646z"/><path d="M749.9 637L764.7 665.1L735 665.1z"/><path d="M759.6 649.4L774.4 677.5L744.7 677.5z"/><path d="M769.3 662.8L784.1 690.9L754.4 690.9z"/><path d="M779 672.7L793.8 700.8L764.1 700.8z"/><path d="M788.7 683.3L803.5 711.5L773.8 711.5z"/><path d="M798.4 690.6L813.2 718.8L783.5 718.8z"/><path d="M808.1 702.6L822.9 730.8L793.2 730.8z"/><path d="M817.8 718.5L832.7 746.6L802.9 746.6z"/><path d="M827.5 729.4L842.4 757.5L812.6 757.5z"/><path d="M837.2 741.4L852.1 769.6L822.4 769.6z"/><path d="M846.9 746.5L861.8 774.6L832.1 774.6z"/><path d="M856.6 760.5L871.5 788.6L841.8 788.6z"/><path d="M866.3 769.5L881.2 797.6L851.5 797.6z"/><path d="M876 779.9L890.9 808.1L861.2 808.1z"/><path d="M885.7 790.7L900.6 818.8L870.9 818.8z"/><path d="M895.4 799.1L910.3 827.2L880.6 827.2z"/><path d="M905.2 807.2L920 835.4L890.3 835.4z"/><path d="M914.9 813.4L929.7 841.6L900 841.6z"/><path d="M924.6 822.7L939.4 850.8L909.7 850.8z"/><path d="M934.3 834.9L949.1 863L919.4 863z"/><path d="M944 842.2L958.8 870.4L929.1 870.4z"/><path d="M953.7 851.7L968.5 879.8L938.8 879.8z"/><path d="M963.4 861.6L978.2 889.8L948.5 889.8z"/><path d="M973.1 868.4L988 896.6L958.2 896.6z"/><path d="M982.8 873.1L997.7 901.2L968 901.2z"/><path d="M992.5 882.9L1007.4 911L977.7 911z"/><path d="M1002.2 892.8L1017.1 920.9L987.4 920.9z"/><path d="M1011.9 898.7L1026.8 926.8L997.1 926.8z"/><path d="M1021.6 911.1L1036.5 939.2L1006.8 939.2z"/><path d="M1031.3 918.8L1046.2 947L1016.5 947z"/><path d="M1041 925.9L1055.9 954.1L1026.2 954.1z"/><path d="M1050.8 931.2L1065.6 959.4L1035.9 959.4z"/><path d="M1060.5 940.9L1075.3 969.1L1045.6 969.1z"/><path d="M1070.2 944L1085 972.1L1055.3 972.1z"/><path d="M1079.9 952L1094.7 980.2L1065 980.2z"/><path d="M1089.6 959.5L1104.4 987.7L1074.7 987.7z"/><path d="M1099.3 967.6L1114.1 995.8L1084.4 995.8z"/><path d="M1109 972.3L1123.8 1000.4L1094.1 1000.4z"/><path d="M1118.7 975.9L1133.6 1004.1L1103.8 1004.1z"/><path d="M1128.4 982.1L1143.3 1010.3L1113.6 1010.3z"/><path d="M1138.1 986.3L1153 1014.4L1123.3 1014.4z"/><path d="M1147.8 990L1162.7 1018.1L1133 1018.1z"/><path d="M1157.5 992.7L1172.4 1020.8L1142.7 1020.8z"/><path d="M1167.2 997.5L1182.1 1025.6L1152.4 1025.6z"/><path d="M1176.9 1000.9L1191.8 1029.1L1162.1 1029.1z"/><path d="M1186.6 1006.2L1201.5 1034.4L1171.8 1034.4z"/><path d="M1196.4 1009.7L1211.2 1037.9L1181.5 1037.9z"/><path d="M1206.1 1011.4L1220.9 1039.5L1191.2 1039.5z"/><path d="M1215.8 1014.3L1230.6 1042.4L1200.9 1042.4z"/><path d="M1225.5 1019.4L1240.3 1047.5L1210.6 1047.5z"/><path d="M1235.2 1023.2L1250 1051.3L1220.3 1051.3z"/><path d="M1244.9 1025L1259.7 1053.1L1230 1053.1z"/><path d="M1254.6 1028.9L1269.4 1057L1239.7 1057z"/><path d="M1264.3 1032.8L1279.2 1060.9L1249.4 1060.9z"/><path d="M1274 1030.3L1288.9 1058.5L1259.2 1058.5z"/><path d="M1283.7 1038L1298.6 1066.2L1268.9 1066.2z"/><path d="M1293.4 1036.8L1308.3 1065L1278.6 1065z"/><path d="M1303.1 1040.3L1318 1068.4L1288.3 1068.4z"/><path d="M1312.8 1044.3L1327.7 1072.4L1298 1072.4z"/><path d="M1322.5 1045.8L1337.4 1074L1307.7 1074z"/><path d="M1332.2 1044.4L1347.1 1072.5L1317.4 1072.5z"/><path d="M1342 1049.3L1356.8 1077.4L1327.1 1077.4z"/><path d="M1351.7 1047.6L1366.5 1075.7L1336.8 1075.7z"/><path d="M1361.4 1051.1L1376.2 1079.3L1346.5 1079.3z"/><path d="M1371.1 1055.7L1385.9 1083.8L1356.2 1083.8z"/><path d="M1380.8 1055.2L1395.6 1083.3L1365.9 1083.3z"/><path d="M1390.5 1058.1L1405.3 1086.2L1375.6 1086.2z"/><path d="M1400.2 1060.8L1415 1088.9L1385.3 1088.9z"/><path d="M1409.9 1063.2L1424.8 1091.4L1395 1091.4z"/><path d="M1419.6 1064.7L1434.5 1092.8L1404.8 1092.8z"/><path d="M1429.3 1062.1L1444.2 1090.2L1414.5 1090.2z"/><path d="M1439 1066.7L1453.9 1094.8L1424.2 1094.8z"/><path d="M1448.7 1069.3L1463.6 1097.4L1433.9 1097.4z"/><path d="M1458.4 1069.4L1473.3 1097.5L1443.6 1097.5z"/><path d="M1468.1 1075L1483 1103.2L1453.3 1103.2z"/><path d="M1477.8 1078.3L1492.7 1106.4L1463 1106.4z"/><path d="M1487.6 1082.6L1502.4 1110.7L1472.7 1110.7z"/><path d="M1497.3 1086.2L1512.1 1114.3L1482.4 1114.3z"/><path d="M1507 1084.3L1521.8 1112.4L1492.1 1112.4z"/><path d="M1516.7 1087.8L1531.5 1115.9L1501.8 1115.9z"/><path d="M1526.4 1093.1L1541.2 1121.2L1511.5 1121.2z"/><path d="M1536.1 1092.5L1550.9 1120.7L1521.2 1120.7z"/><path d="M1545.8 1095.5L1560.6 1123.7L1530.9 1123.7z"/><path d="M1555.5 1100.1L1570.4 1128.2L1540.6 1128.2z"/><path d="M1565.2 1100.1L1580.1 1128.2L1550.3 1128.2z"/><path d="M1574.9 1106.4L1589.8 1134.5L1560.1 1134.5z"/><path d="M1584.6 1109.6L1599.5 1137.8L1569.8 1137.8z"/><path d="M1594.3 1107.8L1609.2 1135.9L1579.5 1135.9z"/><path d="M1604 1114.2L1618.9 1142.4L1589.2 1142.4z"/><path d="M1613.7 1119.7L1628.6 1147.8L1598.9 1147.8z"/><path d="M1623.4 1125.2L1638.3 1153.4L1608.6 1153.4z"/><path d="M1633.1 1126.3L1648 1154.4L1618.3 1154.4z"/><path d="M1642.9 1131.9L1657.7 1160L1628 1160z"/><path d="M1652.6 1143.6L1667.4 1171.7L1637.7 1171.7z"/><path d="M1662.3 1154.2L1677.1 1182.3L1647.4 1182.3z"/><path d="M1672 1163.2L1686.8 1191.3L1657.1 1191.3z"/><path d="M1681.7 1177.8L1696.5 1205.9L1666.8 1205.9z"/><path d="M1691.4 1191.6L1706.2 1219.7L1676.5 1219.7z"/><path d="M1701.1 1204.1L1715.9 1232.3L1686.2 1232.3z"/><path d="M1710.8 1210L1725.7 1238.2L1695.9 1238.2z"/><path d="M1720.5 1220.1L1735.4 1248.3L1705.7 1248.3z"/><path d="M1730.2 1227L1745.1 1255.1L1715.4 1255.1z"/><path d="M1739.9 1230.7L1754.8 1258.9L1725.1 1258.9z"/><path d="M1749.6 1233.2L1764.5 1261.3L1734.8 1261.3z"/><path d="M1759.3 1236.7L1774.2 1264.8L1744.5 1264.8z"/><path d="M1769 1242.1L1783.9 1270.3L1754.2 1270.3z"/><path d="M1778.7 1249L1793.6 1277.2L1763.9 1277.2z"/><path d="M1788.5 1248.1L1803.3 1276.2L1773.6 1276.2z"/><path d="M1798.2 1251.3L1813 1279.5L1783.3 1279.5z"/><path d="M1807.9 1256.6L1822.7 1284.8L1793 1284.8z"/><path d="M1817.6 1257.8L1832.4 1285.9L1802.7 1285.9z"/><path d="M1827.3 1261.1L1842.1 1289.2L1812.4 1289.2z"/><path d="M1837 1263L1851.8 1291.1L1822.1 1291.1z"/><path d="M1846.7 1268.6L1861.5 1296.8L1831.8 1296.8z"/><path d="M1856.4 1272.4L1871.3 1300.5L1841.5 1300.5z"/><path d="M1866.1 1273.6L1881 1301.7L1851.3 1301.7z"/><path d="M1875.8 1274.8L1890.7 1302.9L1861 1302.9z"/><path d="M1885.5 1279.2L1900.4 1307.4L1870.7 1307.4z"/><path d="M1895.2 1284.2L1910.1 1312.3L1880.4 1312.3z"/><path d="M1904.9 1289.8L1919.8 1317.9L1890.1 1317.9z"/><path d="M1914.6 1293.7L1929.5 1321.9L1899.8 1321.9z"/><path d="M1924.3 1292.9L1939.2 1321L1909.5 1321z"/><path d="M1934.1 1295.2L1948.9 1323.3L1919.2 1323.3z"/><path d="M1943.8 1303.8L1958.6 1331.9L1928.9 1331.9z"/><path d="M1953.5 1308L1968.3 1336.2L1938.6 1336.2z"/><path d="M1963.2 1308.9L1978 1337.1L1948.3 1337.1z"/><path d="M1972.9 1314.6L1987.7 1342.7L1958 1342.7z"/><path d="M1982.6 1318.9L1997.4 1347L1967.7 1347z"/><path d="M1992.3 1321.2L2007.1 1349.3L1977.4 1349.3z"/><path d="M2002 1326.6L2016.9 1354.7L1987.1 1354.7z"/></g><path d="M386 176.6L402.5 193.1L386 209.6L369.5 193.1zM395.7 179.9L412.2 196.4L395.7 212.9L379.2 196.4zM405.3 178.7L421.8 195.2L405.3 211.7L388.8 195.2zM415 180.3L431.5 196.8L415 213.3L398.5 196.8zM424.7 181.9L441.2 198.4L424.7 214.9L408.2 198.4zM434.4 180.5L450.9 197L434.4 213.5L417.9 197zM444 180.9L460.5 197.4L444 213.9L427.5 197.4zM453.7 179.6L470.2 196.1L453.7 212.6L437.2 196.1zM463.4 181L479.9 197.5L463.4 214L446.9 197.5zM473.1 182.7L489.6 199.2L473.1 215.7L456.6 199.2zM482.7 184.3L499.2 200.8L482.7 217.3L466.2 200.8zM492.4 185.7L508.9 202.2L492.4 218.7L475.9 202.2zM502.1 184.9L518.6 201.4L502.1 217.9L485.6 201.4zM511.7 184.7L528.2 201.2L511.7 217.7L495.2 201.2zM521.4 187.1L537.9 203.6L521.4 220.1L504.9 203.6zM531.1 191.4L547.6 207.9L531.1 224.4L514.6 207.9zM540.8 189.9L557.3 206.4L540.8 222.9L524.3 206.4zM550.4 192.3L566.9 208.8L550.4 225.3L533.9 208.8zM560.1 195.7L576.6 212.2L560.1 228.7L543.6 212.2zM569.8 192.8L586.3 209.3L569.8 225.8L553.3 209.3zM579.5 196.5L596 213L579.5 229.5L563 213zM589.1 199.1L605.6 215.6L589.1 232.1L572.6 215.6zM598.8 196.9L615.3 213.4L598.8 229.9L582.3 213.4zM608.5 199.4L625 215.9L608.5 232.4L592 215.9zM618.1 201.9L634.6 218.4L618.1 234.9L601.6 218.4zM627.8 199.5L644.3 216L627.8 232.5L611.3 216zM637.5 202.2L654 218.7L637.5 235.2L621 218.7zM647.2 204.2L663.7 220.7L647.2 237.2L630.7 220.7zM656.8 204.7L673.3 221.2L656.8 237.7L640.3 221.2zM666.5 204.8L683 221.3L666.5 237.8L650 221.3zM676.2 204.6L692.7 221.1L676.2 237.6L659.7 221.1zM685.9 206.7L702.4 223.2L685.9 239.7L669.4 223.2zM695.5 207.1L712 223.6L695.5 240.1L679 223.6zM705.2 208.4L721.7 224.9L705.2 241.4L688.7 224.9zM714.9 208.7L731.4 225.2L714.9 241.7L698.4 225.2zM724.5 211.6L741 228.1L724.5 244.6L708 228.1zM734.2 212L750.7 228.5L734.2 245L717.7 228.5zM743.9 210.7L760.4 227.2L743.9 243.7L727.4 227.2zM753.6 212.6L770.1 229.1L753.6 245.6L737.1 229.1zM763.2 212L779.7 228.5L763.2 245L746.7 228.5zM772.9 213.4L789.4 229.9L772.9 246.4L756.4 229.9zM782.6 213.6L799.1 230.1L782.6 246.6L766.1 230.1zM792.3 215.5L808.8 232L792.3 248.5L775.8 232zM801.9 214.9L818.4 231.4L801.9 247.9L785.4 231.4zM811.6 215.8L828.1 232.3L811.6 248.8L795.1 232.3zM821.3 217.6L837.8 234.1L821.3 250.6L804.8 234.1zM830.9 216.8L847.4 233.3L830.9 249.8L814.4 233.3zM840.6 219.5L857.1 236L840.6 252.5L824.1 236zM850.3 216.8L866.8 233.3L850.3 249.8L833.8 233.3zM860 219.8L876.5 236.3L860 252.8L843.5 236.3zM869.6 218.9L886.1 235.4L869.6 251.9L853.1 235.4zM879.3 219.5L895.8 236L879.3 252.5L862.8 236zM889 220.8L905.5 237.3L889 253.8L872.5 237.3zM898.7 220.8L915.2 237.3L898.7 253.8L882.2 237.3zM908.3 220.8L924.8 237.3L908.3 253.8L891.8 237.3zM918 219.4L934.5 235.9L918 252.4L901.5 235.9zM927.7 220.3L944.2 236.8L927.7 253.3L911.2 236.8zM937.3 223.4L953.8 239.9L937.3 256.4L920.8 239.9zM947 223L963.5 239.5L947 256L930.5 239.5zM956.7 224.2L973.2 240.7L956.7 257.2L940.2 240.7zM966.4 225.8L982.9 242.3L966.4 258.8L949.9 242.3zM976 225.1L992.5 241.6L976 258.1L959.5 241.6zM985.7 222.7L1002.2 239.2L985.7 255.7L969.2 239.2zM995.4 224.3L1011.9 240.8L995.4 257.3L978.9 240.8zM1005.1 226L1021.6 242.5L1005.1 259L988.6 242.5zM1014.7 224.9L1031.2 241.4L1014.7 257.9L998.2 241.4zM1024.4 228.5L1040.9 245L1024.4 261.5L1007.9 245zM1034.1 228.9L1050.6 245.4L1034.1 261.9L1017.6 245.4zM1043.7 228.8L1060.2 245.3L1043.7 261.8L1027.2 245.3zM1053.4 227.5L1069.9 244L1053.4 260.5L1036.9 244zM1063.1 229.5L1079.6 246L1063.1 262.5L1046.6 246zM1072.8 226.7L1089.3 243.2L1072.8 259.7L1056.3 243.2zM1082.4 227.8L1098.9 244.3L1082.4 260.8L1065.9 244.3zM1092.1 228.7L1108.6 245.2L1092.1 261.7L1075.6 245.2zM1101.8 230.3L1118.3 246.8L1101.8 263.3L1085.3 246.8zM1111.5 229.4L1128 245.9L1111.5 262.4L1095 245.9zM1121.1 228.1L1137.6 244.6L1121.1 261.1L1104.6 244.6zM1130.8 229.2L1147.3 245.7L1130.8 262.2L1114.3 245.7zM1140.5 229.3L1157 245.8L1140.5 262.3L1124 245.8zM1150.1 229.4L1166.6 245.9L1150.1 262.4L1133.6 245.9zM1159.8 228.9L1176.3 245.4L1159.8 261.9L1143.3 245.4zM1169.5 230.1L1186 246.6L1169.5 263.1L1153 246.6zM1179.2 230.3L1195.7 246.8L1179.2 263.3L1162.7 246.8zM1188.8 231.8L1205.3 248.3L1188.8 264.8L1172.3 248.3zM1198.5 232L1215 248.5L1198.5 265L1182 248.5zM1208.2 230.9L1224.7 247.4L1208.2 263.9L1191.7 247.4zM1217.9 230.7L1234.4 247.2L1217.9 263.7L1201.4 247.2zM1227.5 232.2L1244 248.7L1227.5 265.2L1211 248.7zM1237.2 232.7L1253.7 249.2L1237.2 265.7L1220.7 249.2zM1246.9 231.9L1263.4 248.4L1246.9 264.9L1230.4 248.4zM1256.5 232.6L1273 249.1L1256.5 265.6L1240 249.1zM1266.2 233.3L1282.7 249.8L1266.2 266.3L1249.7 249.8zM1275.9 229.6L1292.4 246.1L1275.9 262.6L1259.4 246.1zM1285.6 233.4L1302.1 249.9L1285.6 266.4L1269.1 249.9zM1295.2 231.1L1311.7 247.6L1295.2 264.1L1278.7 247.6zM1304.9 232.6L1321.4 249.1L1304.9 265.6L1288.4 249.1zM1314.6 235.1L1331.1 251.6L1314.6 268.1L1298.1 251.6zM1324.3 236.1L1340.8 252.6L1324.3 269.1L1307.8 252.6zM1333.9 235.2L1350.4 251.7L1333.9 268.2L1317.4 251.7zM1343.6 239.1L1360.1 255.6L1343.6 272.1L1327.1 255.6zM1353.3 238.1L1369.8 254.6L1353.3 271.1L1336.8 254.6zM1362.9 241L1379.4 257.5L1362.9 274L1346.4 257.5zM1372.6 244.9L1389.1 261.4L1372.6 277.9L1356.1 261.4zM1382.3 245.5L1398.8 262L1382.3 278.5L1365.8 262zM1392 249L1408.5 265.5L1392 282L1375.5 265.5zM1401.6 253.2L1418.1 269.7L1401.6 286.2L1385.1 269.7zM1411.3 259.2L1427.8 275.7L1411.3 292.2L1394.8 275.7zM1421 264.7L1437.5 281.2L1421 297.7L1404.5 281.2zM1430.7 265.3L1447.2 281.8L1430.7 298.3L1414.2 281.8zM1440.3 271.8L1456.8 288.3L1440.3 304.8L1423.8 288.3zM1450 283.3L1466.5 299.8L1450 316.3L1433.5 299.8zM1455 291.5L1471.5 308L1455 324.5L1438.5 308zM1461 309.7L1477.5 326.2L1461 342.7L1444.5 326.2zM1468 329L1484.5 345.5L1468 362L1451.5 345.5zM1474 344.9L1490.5 361.4L1474 377.9L1457.5 361.4zM1479 359.4L1495.5 375.9L1479 392.4L1462.5 375.9zM1484 379.9L1500.5 396.4L1484 412.9L1467.5 396.4zM1488 402.3L1504.5 418.8L1488 435.3L1471.5 418.8zM1493 429.2L1509.5 445.7L1493 462.2L1476.5 445.7zM1498 445.9L1514.5 462.4L1498 478.9L1481.5 462.4zM1503 472.3L1519.5 488.8L1503 505.3L1486.5 488.8zM1508 499.8L1524.5 516.3L1508 532.8L1491.5 516.3zM1513 532L1529.5 548.5L1513 565L1496.5 548.5zM1517 566.7L1533.5 583.2L1517 599.7L1500.5 583.2zM1520 592.1L1536.5 608.6L1520 625.1L1503.5 608.6zM1523 613.4L1539.5 629.9L1523 646.4L1506.5 629.9zM1529 648.6L1545.5 665.1L1529 681.6L1512.5 665.1zM1535 682.8L1551.5 699.3L1535 715.8L1518.5 699.3zM1539 705.6L1555.5 722.1L1539 738.6L1522.5 722.1zM1543 722.5L1559.5 739L1543 755.5L1526.5 739zM1549 740L1565.5 756.5L1549 773L1532.5 756.5zM1555 761.2L1571.5 777.7L1555 794.2L1538.5 777.7zM1564.9 787L1581.4 803.5L1564.9 820L1548.4 803.5zM1574.8 803.1L1591.3 819.6L1574.8 836.1L1558.3 819.6zM1584.7 817.4L1601.2 833.9L1584.7 850.4L1568.2 833.9zM1594.6 830.8L1611.1 847.3L1594.6 863.8L1578.1 847.3zM1604.5 844.2L1621 860.7L1604.5 877.2L1588 860.7zM1614.4 852.7L1630.9 869.2L1614.4 885.7L1597.9 869.2zM1624.3 865.7L1640.8 882.2L1624.3 898.7L1607.8 882.2zM1634.2 873.9L1650.7 890.4L1634.2 906.9L1617.7 890.4zM1644.1 877.2L1660.6 893.7L1644.1 910.2L1627.6 893.7zM1654 878.4L1670.5 894.9L1654 911.4L1637.5 894.9zM1663.9 878.4L1680.4 894.9L1663.9 911.4L1647.4 894.9zM1673.8 878.6L1690.3 895.1L1673.8 911.6L1657.3 895.1zM1683.7 879.3L1700.2 895.8L1683.7 912.3L1667.2 895.8zM1693.6 873L1710.1 889.5L1693.6 906L1677.1 889.5zM1703.5 866.8L1720 883.3L1703.5 899.8L1687 883.3zM1713.4 858.8L1729.9 875.3L1713.4 891.8L1696.9 875.3zM1723.3 841.1L1739.8 857.6L1723.3 874.1L1706.8 857.6zM1733.2 823.5L1749.7 840L1733.2 856.5L1716.7 840zM1743.1 803.1L1759.6 819.6L1743.1 836.1L1726.6 819.6zM1753 786.6L1769.5 803.1L1753 819.6L1736.5 803.1zM1758 768.4L1774.5 784.9L1758 801.4L1741.5 784.9zM1764 753.2L1780.5 769.7L1764 786.2L1747.5 769.7zM1768 740.9L1784.5 757.4L1768 773.9L1751.5 757.4zM1772 726.8L1788.5 743.3L1772 759.8L1755.5 743.3zM1777 712.9L1793.5 729.4L1777 745.9L1760.5 729.4zM1780 695.4L1796.5 711.9L1780 728.4L1763.5 711.9zM1782 677.7L1798.5 694.2L1782 710.7L1765.5 694.2zM1786 660.4L1802.5 676.9L1786 693.4L1769.5 676.9zM1791 646.3L1807.5 662.8L1791 679.3L1774.5 662.8zM1797 630L1813.5 646.5L1797 663L1780.5 646.5zM1804 612.4L1820.5 628.9L1804 645.4L1787.5 628.9zM1810 595.3L1826.5 611.8L1810 628.3L1793.5 611.8zM1815 581.7L1831.5 598.2L1815 614.7L1798.5 598.2zM1822 567.1L1838.5 583.6L1822 600.1L1805.5 583.6zM1831.9 550.6L1848.4 567.1L1831.9 583.6L1815.4 567.1zM1841.8 540.9L1858.3 557.4L1841.8 573.9L1825.3 557.4zM1851.7 530.1L1868.2 546.6L1851.7 563.1L1835.2 546.6zM1861.6 526.2L1878.1 542.7L1861.6 559.2L1845.1 542.7zM1871.4 525.6L1887.9 542.1L1871.4 558.6L1854.9 542.1zM1881.3 525.1L1897.8 541.6L1881.3 558.1L1864.8 541.6zM1891.2 529L1907.7 545.5L1891.2 562L1874.7 545.5zM1901.1 525.5L1917.6 542L1901.1 558.5L1884.6 542zM1911 528.7L1927.5 545.2L1911 561.7L1894.5 545.2zM1920.9 526.5L1937.4 543L1920.9 559.5L1904.4 543zM1930.8 528L1947.3 544.5L1930.8 561L1914.3 544.5zM1940.7 528.4L1957.2 544.9L1940.7 561.4L1924.2 544.9zM1950.6 527.6L1967.1 544.1L1950.6 560.6L1934.1 544.1zM1960.4 529.3L1976.9 545.8L1960.4 562.3L1943.9 545.8zM1970.3 529.5L1986.8 546L1970.3 562.5L1953.8 546zM1980.2 528.6L1996.7 545.1L1980.2 561.6L1963.7 545.1zM1990.1 530.5L2006.6 547L1990.1 563.5L1973.6 547zM2000 528L2016.5 544.5L2000 561L1983.5 544.5z" fill="#db0808"/><g fill="#fff" stroke="#db0808" stroke-width="6.0"><path d="M386 582.8L399.3 596.1L386 609.4L372.7 596.1z"/><path d="M395.7 584.6L409 597.9L395.7 611.2L382.4 597.9z"/><path d="M405.4 581.5L418.7 594.8L405.4 608.1L392.1 594.8z"/><path d="M415.1 581L428.4 594.3L415.1 607.6L401.8 594.3z"/><path d="M424.8 580.1L438.1 593.4L424.8 606.7L411.5 593.4z"/><path d="M434.5 576.1L447.8 589.4L434.5 602.7L421.2 589.4z"/><path d="M444.2 573.7L457.5 587L444.2 600.3L430.9 587z"/><path d="M453.9 569.1L467.2 582.4L453.9 595.7L440.6 582.4z"/><path d="M463.6 567L476.9 580.3L463.6 593.6L450.3 580.3z"/><path d="M473.3 564.9L486.6 578.2L473.3 591.5L460 578.2z"/><path d="M483 562.5L496.3 575.8L483 589.1L469.7 575.8z"/><path d="M492.7 560.1L506 573.4L492.7 586.7L479.4 573.4z"/><path d="M502.4 555.3L515.7 568.6L502.4 581.9L489.1 568.6z"/><path d="M512.1 550.9L525.4 564.2L512.1 577.5L498.8 564.2z"/><path d="M521.8 548.9L535.1 562.2L521.8 575.5L508.5 562.2z"/><path d="M531.5 548.8L544.8 562.1L531.5 575.4L518.2 562.1z"/><path d="M541.2 543.3L554.5 556.6L541.2 569.9L527.9 556.6z"/><path d="M550.9 542.3L564.2 555.6L550.9 568.9L537.6 555.6z"/><path d="M560.6 542.6L573.9 555.9L560.6 569.2L547.3 555.9z"/><path d="M570.3 536.8L583.6 550.1L570.3 563.4L557 550.1z"/><path d="M580 537.7L593.3 551L580 564.3L566.7 551z"/><path d="M589.7 538.1L603 551.4L589.7 564.7L576.4 551.4z"/><path d="M599.4 534.5L612.7 547.8L599.4 561.1L586.1 547.8z"/><path d="M609.1 536.2L622.4 549.5L609.1 562.8L595.8 549.5z"/><path d="M618.8 538.8L632.1 552.1L618.8 565.4L605.5 552.1z"/><path d="M628.5 536.8L641.8 550.1L628.5 563.4L615.2 550.1z"/><path d="M638.2 540.4L651.5 553.7L638.2 567L624.9 553.7z"/><path d="M647.9 543.4L661.2 556.7L647.9 570L634.6 556.7z"/><path d="M657.6 545.5L670.9 558.8L657.6 572.1L644.3 558.8z"/><path d="M667.3 548.4L680.6 561.7L667.3 575L654 561.7z"/><path d="M677 551.7L690.3 565L677 578.3L663.7 565z"/><path d="M686.7 557.7L700 571L686.7 584.3L673.4 571z"/><path d="M696.4 561.7L709.7 575L696.4 588.3L683.1 575z"/><path d="M706.1 566.8L719.4 580.1L706.1 593.4L692.8 580.1z"/><path d="M715.8 571L729.1 584.3L715.8 597.6L702.5 584.3z"/><path d="M725.5 578L738.8 591.3L725.5 604.6L712.2 591.3z"/><path d="M735.2 582.5L748.5 595.8L735.2 609.1L721.9 595.8z"/><path d="M744.9 585.3L758.2 598.6L744.9 611.9L731.6 598.6z"/><path d="M754.6 591.4L767.9 604.7L754.6 618L741.3 604.7z"/><path d="M764.3 595.1L777.6 608.4L764.3 621.7L751 608.4z"/><path d="M774 600.4L787.3 613.7L774 627L760.7 613.7z"/><path d="M783.7 603.9L797 617.2L783.7 630.5L770.4 617.2z"/><path d="M793.4 608.7L806.7 622L793.4 635.3L780.1 622z"/><path d="M803.1 610.5L816.4 623.8L803.1 637.1L789.8 623.8z"/><path d="M812.8 613.9L826.1 627.2L812.8 640.5L799.5 627.2z"/><path d="M822.5 618L835.8 631.3L822.5 644.6L809.2 631.3z"/><path d="M832.2 619.7L845.5 633L832.2 646.3L818.9 633z"/><path d="M841.9 625.1L855.2 638.4L841.9 651.7L828.6 638.4z"/><path d="M851.6 625.7L864.9 639L851.6 652.3L838.3 639z"/><path d="M861.3 631.9L874.6 645.2L861.3 658.5L848 645.2z"/><path d="M871 633.3L884.3 646.6L871 659.9L857.7 646.6z"/><path d="M880.7 635.8L894 649.1L880.7 662.4L867.4 649.1z"/><path d="M890.4 638.9L903.7 652.2L890.4 665.5L877.1 652.2z"/><path d="M900.1 640.4L913.4 653.7L900.1 667L886.8 653.7z"/><path d="M909.8 641.7L923.1 655L909.8 668.3L896.5 655z"/><path d="M919.5 641.4L932.8 654.7L919.5 668L906.2 654.7z"/><path d="M929.2 643.4L942.5 656.7L929.2 670L915.9 656.7z"/><path d="M938.9 647.7L952.2 661L938.9 674.3L925.6 661z"/><path d="M948.6 648.3L961.9 661.6L948.6 674.9L935.3 661.6z"/><path d="M958.3 650.3L971.6 663.6L958.3 676.9L945 663.6z"/><path d="M968 652.3L981.3 665.6L968 678.9L954.7 665.6z"/><path d="M977.7 651.5L991 664.8L977.7 678.1L964.4 664.8z"/><path d="M987.4 648.7L1000.7 662L987.4 675.3L974.1 662z"/><path d="M997.1 649.9L1010.4 663.2L997.1 676.5L983.8 663.2z"/><path d="M1006.8 651.1L1020.1 664.4L1006.8 677.7L993.5 664.4z"/><path d="M1016.5 649.5L1029.8 662.8L1016.5 676.1L1003.2 662.8z"/><path d="M1026.2 652.7L1039.5 666L1026.2 679.3L1012.9 666z"/><path d="M1035.9 652.7L1049.2 666L1035.9 679.3L1022.6 666z"/><path d="M1045.6 652.2L1058.9 665.5L1045.6 678.8L1032.3 665.5z"/><path d="M1055.3 650.6L1068.6 663.9L1055.3 677.2L1042 663.9z"/><path d="M1065 652.2L1078.3 665.5L1065 678.8L1051.7 665.5z"/><path d="M1074.7 649L1088 662.3L1074.7 675.6L1061.4 662.3z"/><path d="M1084.4 649.4L1097.7 662.7L1084.4 676L1071.1 662.7z"/><path d="M1094.1 649.3L1107.4 662.6L1094.1 675.9L1080.8 662.6z"/><path d="M1103.8 649.6L1117.1 662.9L1103.8 676.2L1090.5 662.9z"/><path d="M1113.5 647.4L1126.8 660.7L1113.5 674L1100.2 660.7z"/><path d="M1123.2 644.9L1136.5 658.2L1123.2 671.5L1109.9 658.2z"/><path d="M1132.9 644.7L1146.2 658L1132.9 671.3L1119.6 658z"/><path d="M1142.6 643.4L1155.9 656.7L1142.6 670L1129.3 656.7z"/><path d="M1152.3 641.9L1165.6 655.2L1152.3 668.5L1139 655.2z"/><path d="M1162 639.9L1175.3 653.2L1162 666.5L1148.7 653.2z"/><path d="M1171.7 639.5L1185 652.8L1171.7 666.1L1158.4 652.8z"/><path d="M1181.4 638L1194.7 651.3L1181.4 664.6L1168.1 651.3z"/><path d="M1191.1 637.8L1204.4 651.1L1191.1 664.4L1177.8 651.1z"/><path d="M1200.8 636.2L1214.1 649.5L1200.8 662.8L1187.5 649.5z"/><path d="M1210.5 633.2L1223.8 646.5L1210.5 659.8L1197.2 646.5z"/><path d="M1220.2 631.1L1233.5 644.4L1220.2 657.7L1206.9 644.4z"/><path d="M1229.9 630.6L1243.2 643.9L1229.9 657.2L1216.6 643.9z"/><path d="M1239.6 629L1252.9 642.3L1239.6 655.6L1226.3 642.3z"/><path d="M1249.3 625.7L1262.6 639L1249.3 652.3L1236 639z"/><path d="M1259 623.7L1272.3 637L1259 650.3L1245.7 637z"/><path d="M1268.7 621.4L1282 634.7L1268.7 648L1255.4 634.7z"/><path d="M1278.4 613.7L1291.7 627L1278.4 640.3L1265.1 627z"/><path d="M1288.1 612.8L1301.4 626.1L1288.1 639.4L1274.8 626.1z"/><path d="M1297.8 604.9L1311.1 618.2L1297.8 631.5L1284.5 618.2z"/><path d="M1307.5 600.2L1320.8 613.5L1307.5 626.8L1294.2 613.5z"/><path d="M1317.2 595.1L1330.5 608.4L1317.2 621.7L1303.9 608.4z"/><path d="M1326.9 587L1340.2 600.3L1326.9 613.6L1313.6 600.3z"/><path d="M1336.6 574.1L1349.9 587.4L1336.6 600.7L1323.3 587.4z"/><path d="M1346.3 565.9L1359.6 579.2L1346.3 592.5L1333 579.2z"/><path d="M1356 553.2L1369.3 566.5L1356 579.8L1342.7 566.5z"/><path d="M1365.7 544.4L1379 557.7L1365.7 571L1352.4 557.7z"/><path d="M1375.4 536.8L1388.7 550.1L1375.4 563.4L1362.1 550.1z"/><path d="M1385.1 524.9L1398.4 538.2L1385.1 551.5L1371.8 538.2z"/><path d="M1394.8 513L1408.1 526.3L1394.8 539.6L1381.5 526.3z"/><path d="M1404.5 501.3L1417.8 514.6L1404.5 527.9L1391.2 514.6z"/><path d="M1414.2 488.8L1427.5 502.1L1414.2 515.4L1400.9 502.1z"/><path d="M1423.9 468.1L1437.2 481.4L1423.9 494.7L1410.6 481.4z"/><path d="M1433.6 447.6L1446.9 460.9L1433.6 474.2L1420.3 460.9z"/><path d="M1443.3 433L1456.6 446.3L1443.3 459.6L1430 446.3z"/><path d="M1453 411.5L1466.3 424.8L1453 438.1L1439.7 424.8z"/><path d="M1460 402.7L1473.3 416L1460 429.3L1446.7 416z"/><path d="M1468 400.9L1481.3 414.2L1468 427.5L1454.7 414.2z"/><path d="M1476 400.2L1489.3 413.5L1476 426.8L1462.7 413.5z"/><path d="M1483 404.1L1496.3 417.4L1483 430.7L1469.7 417.4z"/><path d="M1489 409.6L1502.3 422.9L1489 436.2L1475.7 422.9z"/><path d="M1498 425.1L1511.3 438.4L1498 451.7L1484.7 438.4z"/><path d="M1508 451.5L1521.3 464.8L1508 478.1L1494.7 464.8z"/><path d="M1513 469.4L1526.3 482.7L1513 496L1499.7 482.7z"/><path d="M1519 485.1L1532.3 498.4L1519 511.7L1505.7 498.4z"/><path d="M1522 506.5L1535.3 519.8L1522 533.1L1508.7 519.8z"/><path d="M1525 529L1538.3 542.3L1525 555.6L1511.7 542.3z"/><path d="M1530 552.2L1543.3 565.5L1530 578.8L1516.7 565.5z"/><path d="M1534 579.9L1547.3 593.2L1534 606.5L1520.7 593.2z"/><path d="M1544 616.3L1557.3 629.6L1544 642.9L1530.7 629.6z"/><path d="M1549 635.6L1562.3 648.9L1549 662.2L1535.7 648.9z"/><path d="M1554 660.8L1567.3 674.1L1554 687.4L1540.7 674.1z"/><path d="M1558 684L1571.3 697.3L1558 710.6L1544.7 697.3z"/><path d="M1563 706.8L1576.3 720.1L1563 733.4L1549.7 720.1z"/><path d="M1568 718.7L1581.3 732L1568 745.3L1554.7 732z"/><path d="M1574 734.2L1587.3 747.5L1574 760.8L1560.7 747.5z"/><path d="M1580 754.4L1593.3 767.7L1580 781L1566.7 767.7z"/><path d="M1585 772.5L1598.3 785.8L1585 799.1L1571.7 785.8z"/><path d="M1590 787.4L1603.3 800.7L1590 814L1576.7 800.7z"/><path d="M1595 807.4L1608.3 820.7L1595 834L1581.7 820.7z"/><path d="M1600 823.7L1613.3 837L1600 850.3L1586.7 837z"/><path d="M1604 839.2L1617.3 852.5L1604 865.8L1590.7 852.5z"/><path d="M1609 851.2L1622.3 864.5L1609 877.8L1595.7 864.5z"/><path d="M1614 869.4L1627.3 882.7L1614 896L1600.7 882.7z"/><path d="M1619 889.1L1632.3 902.4L1619 915.7L1605.7 902.4z"/><path d="M1624 900.9L1637.3 914.2L1624 927.5L1610.7 914.2z"/><path d="M1629 911.2L1642.3 924.5L1629 937.8L1615.7 924.5z"/><path d="M1634 923.7L1647.3 937L1634 950.3L1620.7 937z"/><path d="M1639 936.7L1652.3 950L1639 963.3L1625.7 950z"/><path d="M1648 955.1L1661.3 968.4L1648 981.7L1634.7 968.4z"/><path d="M1658 966.7L1671.3 980L1658 993.3L1644.7 980z"/><path d="M1669 976.5L1682.3 989.8L1669 1003.1L1655.7 989.8z"/><path d="M1679 988.1L1692.3 1001.4L1679 1014.7L1665.7 1001.4z"/><path d="M1691 997.8L1704.3 1011.1L1691 1024.4L1677.7 1011.1z"/><path d="M1705 998.2L1718.3 1011.5L1705 1024.8L1691.7 1011.5z"/><path d="M1718 992.6L1731.3 1005.9L1718 1019.2L1704.7 1005.9z"/><path d="M1731 988.8L1744.3 1002.1L1731 1015.4L1717.7 1002.1z"/><path d="M1743 971.6L1756.3 984.9L1743 998.2L1729.7 984.9z"/><path d="M1756 953.4L1769.3 966.7L1756 980L1742.7 966.7z"/><path d="M1761 940.1L1774.3 953.4L1761 966.7L1747.7 953.4z"/><path d="M1766 928L1779.3 941.3L1766 954.6L1752.7 941.3z"/><path d="M1771 916.1L1784.3 929.4L1771 942.7L1757.7 929.4z"/><path d="M1776 904.6L1789.3 917.9L1776 931.2L1762.7 917.9z"/><path d="M1779 888.9L1792.3 902.2L1779 915.5L1765.7 902.2z"/><path d="M1780 871.6L1793.3 884.9L1780 898.2L1766.7 884.9z"/><path d="M1785 860.5L1798.3 873.8L1785 887.1L1771.7 873.8z"/><path d="M1790 854.2L1803.3 867.5L1790 880.8L1776.7 867.5z"/><path d="M1794 839.6L1807.3 852.9L1794 866.2L1780.7 852.9z"/><path d="M1798 822.5L1811.3 835.8L1798 849.1L1784.7 835.8z"/><path d="M1804 815.9L1817.3 829.2L1804 842.5L1790.7 829.2z"/><path d="M1809 807.3L1822.3 820.6L1809 833.9L1795.7 820.6z"/><path d="M1816 798.2L1829.3 811.5L1816 824.8L1802.7 811.5z"/><path d="M1823 791.3L1836.3 804.6L1823 817.9L1809.7 804.6z"/><path d="M1831 780.6L1844.3 793.9L1831 807.2L1817.7 793.9z"/><path d="M1840.6 776.4L1853.9 789.7L1840.6 803L1827.3 789.7z"/><path d="M1850.2 774.9L1863.5 788.2L1850.2 801.5L1836.9 788.2z"/><path d="M1859.8 773.3L1873.1 786.6L1859.8 799.9L1846.5 786.6z"/><path d="M1869.4 776.5L1882.7 789.8L1869.4 803.1L1856.1 789.8z"/><path d="M1879.1 772.8L1892.4 786.1L1879.1 799.4L1865.8 786.1z"/><path d="M1888.7 776.2L1902 789.5L1888.7 802.8L1875.4 789.5z"/><path d="M1898.3 774.4L1911.6 787.7L1898.3 801L1885 787.7z"/><path d="M1907.9 776.6L1921.2 789.9L1907.9 803.2L1894.6 789.9z"/><path d="M1917.5 777.7L1930.8 791L1917.5 804.3L1904.2 791z"/><path d="M1927.1 777.4L1940.4 790.7L1927.1 804L1913.8 790.7z"/><path d="M1936.7 779.4L1950 792.7L1936.7 806L1923.4 792.7z"/><path d="M1946.3 780L1959.6 793.3L1946.3 806.6L1933 793.3z"/><path d="M1955.9 779.6L1969.2 792.9L1955.9 806.2L1942.6 792.9z"/><path d="M1965.6 782L1978.9 795.3L1965.6 808.6L1952.3 795.3z"/><path d="M1975.2 779.9L1988.5 793.2L1975.2 806.5L1961.9 793.2z"/><path d="M1984.8 780.5L1998.1 793.8L1984.8 807.1L1971.5 793.8z"/><path d="M1994.4 781.7L2007.7 795L1994.4 808.3L1981.1 795z"/><path d="M2004 782.2L2017.3 795.5L2004 808.8L1990.7 795.5z"/></g><path d="M599 612L633.7 703L609.5 682L609.5 749.2L588.5 749.2L588.5 682L564.3 703z" fill="#0204d4"/><path d="M1467.3 549.6L1502.9 641.5L1477.7 621.5L1477.7 684.2L1456.9 684.2L1456.9 621.5L1431.7 641.5z" fill="#000"/><g fill="#000"><rect x="285.5" y="62.9" width="1722.4" height="7.9"/><rect x="285.5" y="1493.2" width="1722.4" height="10.5"/><rect x="285.5" y="62.9" width="10.8" height="1440.8"/><rect x="1997.2" y="62.9" width="10.7" height="1440.8"/><rect x="570" y="70.8" width="10" height="31"/><rect x="570" y="1462.2" width="10" height="31"/><rect x="856.5" y="70.8" width="10" height="31"/><rect x="856.5" y="1462.2" width="10" height="31"/><rect x="1140.5" y="70.8" width="10" height="31"/><rect x="1140.5" y="1462.2" width="10" height="31"/><rect x="1427" y="70.8" width="10" height="31"/><rect x="1427" y="1462.2" width="10" height="31"/><rect x="1711" y="70.8" width="10" height="31"/><rect x="1711" y="1462.2" width="10" height="31"/><rect x="296.3" y="301.1" width="31" height="9.5"/><rect x="1966.2" y="301.1" width="31" height="9.5"/><rect x="296.3" y="536.8" width="31" height="9.5"/><rect x="1966.2" y="536.8" width="31" height="9.5"/><rect x="296.3" y="779.8" width="31" height="9.5"/><rect x="1966.2" y="779.8" width="31" height="9.5"/><rect x="296.3" y="1017.8" width="31" height="9.5"/><rect x="1966.2" y="1017.8" width="31" height="9.5"/><rect x="296.3" y="1256.2" width="31" height="9.5"/><rect x="1966.2" y="1256.2" width="31" height="9.5"/></g><text transform="translate(246 89.5) scale(0.98 1.045)" font-size="93.5" text-anchor="end">10</text><text transform="translate(246 327.5) scale(0.98 1.045)" font-size="93.5" text-anchor="end">9</text><text transform="translate(246 565) scale(0.98 1.045)" font-size="93.5" text-anchor="end">8</text><text transform="translate(246 806.5) scale(0.98 1.045)" font-size="93.5" text-anchor="end">7</text><text transform="translate(246 1044.5) scale(0.98 1.045)" font-size="93.5" text-anchor="end">6</text><text transform="translate(246 1283.5) scale(0.98 1.045)" font-size="93.5" text-anchor="end">5</text><text transform="translate(246 1521.5) scale(0.98 1.045)" font-size="93.5" text-anchor="end">4</text><text transform="translate(290.5 1584.8) scale(0.985 1.045)" font-size="93.5" text-anchor="middle">−60</text><text transform="translate(576 1584.8) scale(0.985 1.045)" font-size="93.5" text-anchor="middle">−30</text><text transform="translate(860 1584.8) scale(0.985 1.045)" font-size="93.5" text-anchor="middle">0</text><text transform="translate(1148.5 1584.8) scale(0.985 1.045)" font-size="93.5" text-anchor="middle">30</text><text transform="translate(1430 1584.8) scale(0.985 1.045)" font-size="93.5" text-anchor="middle">60</text><text transform="translate(1720 1584.8) scale(0.985 1.045)" font-size="93.5" text-anchor="middle">90</text><text transform="translate(2004 1584.8) scale(0.985 1.045)" font-size="93.5" text-anchor="middle">120</text><text transform="translate(821 1709) scale(1.0 1.045)" font-size="92">Temperature (</text><text transform="translate(1398 1662) scale(1.0 1.045)" font-size="64">o</text><text transform="translate(1431 1709) scale(1.0 1.045)" font-size="92">C)</text><text transform="translate(106 1255) rotate(-90) scale(0.993 1.03)" font-size="92">log [E' (Pa)], log [E" (Pa)]</text><text transform="translate(1640 267.7) scale(0.976 1.045)" font-size="93.5">10 Hz</text><text transform="translate(365 403) scale(1.0 1.045)" font-size="93.5">E'</text><text transform="translate(369 754.3) scale(1.0 1.045)" font-size="93.5">E"</text><text transform="translate(532 814.3) scale(0.97 1.045)" font-size="93.5" fill="#0204d4">Tg</text><text transform="translate(1402 754.6) scale(0.96 1.045)" font-size="93.5">Tg</text><circle cx="415" cy="1179.7" r="29.5" fill="#000"/><circle cx="485.7" cy="1179.7" r="28.6" fill="#fff" stroke="#000" stroke-width="1.8"/><path d="M415 1253L444.9 1311.7L385.1 1311.7z" fill="#0204d4"/><path d="M485.7 1254.2L514.2 1310.8L457.2 1310.8z" fill="#fff" stroke="#0204d4" stroke-width="1.8"/><path d="M416 1356L445 1384.8L416 1413.7L386.5 1384.8z" fill="#db0808"/><path d="M485.7 1354L515 1382.8L485.7 1411.5L456.2 1382.8z" fill="#fff" stroke="#db0808" stroke-opacity="0.7" stroke-width="1.8"/><text transform="translate(594 1209) scale(1.016 1.045)" font-size="93.5">PLA</text><text transform="translate(596 1319) scale(1.03 1.045)" font-size="93.5" fill="#0204d4">EVA</text><text transform="translate(594 1429.4) scale(0.997 1.045)" font-size="93.5" fill="#db0808">PLA/EVA (70/30)</text></svg></body></html>
